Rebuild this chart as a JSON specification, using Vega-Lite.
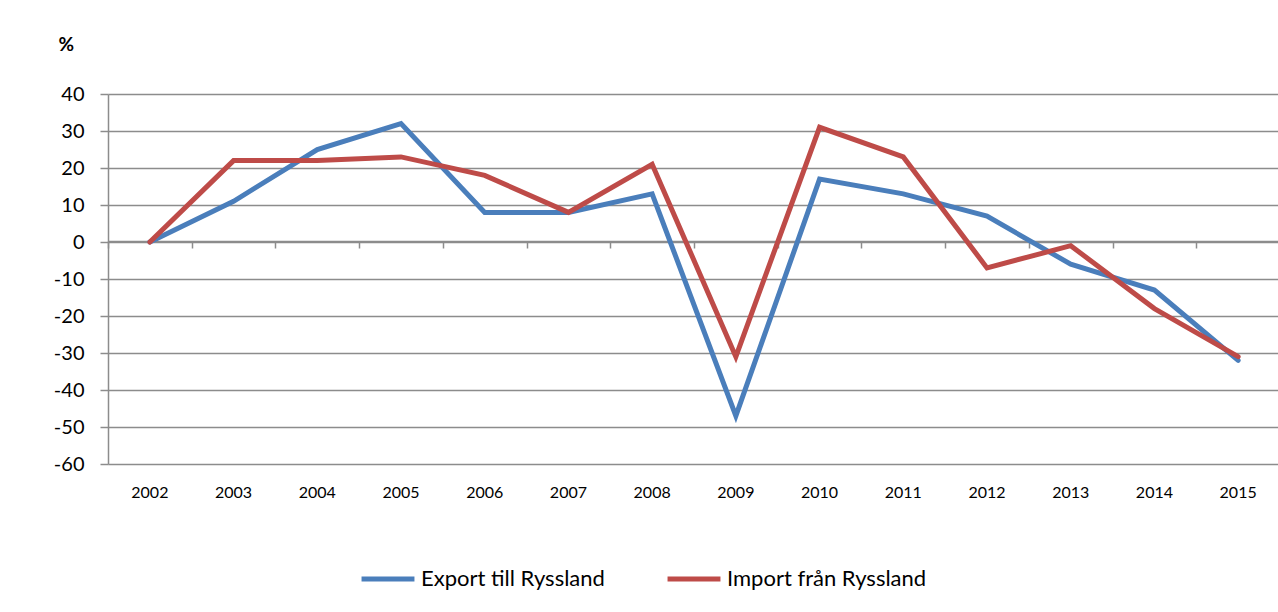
{
  "$schema": "https://vega.github.io/schema/vega-lite/v6.json",
  "width": 1172,
  "height": 370,
  "autosize": {"type": "none"},
  "padding": {"left": 108, "top": 94, "right": 0, "bottom": 148},
  "background": "white",
  "config": {
    "view": {"stroke": null},
    "font": "Lato",
    "axis": {"labelFont": "Lato", "titleFont": "Lato", "labelColor": "#000000"},
    "legend": {"labelFont": "Lato"}
  },
  "data": {
    "values": [
      {"year": "2002", "series": "Export till Ryssland", "value": 0},
      {"year": "2003", "series": "Export till Ryssland", "value": 11},
      {"year": "2004", "series": "Export till Ryssland", "value": 25},
      {"year": "2005", "series": "Export till Ryssland", "value": 32},
      {"year": "2006", "series": "Export till Ryssland", "value": 8},
      {"year": "2007", "series": "Export till Ryssland", "value": 8},
      {"year": "2008", "series": "Export till Ryssland", "value": 13},
      {"year": "2009", "series": "Export till Ryssland", "value": -47},
      {"year": "2010", "series": "Export till Ryssland", "value": 17},
      {"year": "2011", "series": "Export till Ryssland", "value": 13},
      {"year": "2012", "series": "Export till Ryssland", "value": 7},
      {"year": "2013", "series": "Export till Ryssland", "value": -6},
      {"year": "2014", "series": "Export till Ryssland", "value": -13},
      {"year": "2015", "series": "Export till Ryssland", "value": -32},
      {"year": "2002", "series": "Import från Ryssland", "value": 0},
      {"year": "2003", "series": "Import från Ryssland", "value": 22},
      {"year": "2004", "series": "Import från Ryssland", "value": 22},
      {"year": "2005", "series": "Import från Ryssland", "value": 23},
      {"year": "2006", "series": "Import från Ryssland", "value": 18},
      {"year": "2007", "series": "Import från Ryssland", "value": 8},
      {"year": "2008", "series": "Import från Ryssland", "value": 21},
      {"year": "2009", "series": "Import från Ryssland", "value": -31},
      {"year": "2010", "series": "Import från Ryssland", "value": 31},
      {"year": "2011", "series": "Import från Ryssland", "value": 23},
      {"year": "2012", "series": "Import från Ryssland", "value": -7},
      {"year": "2013", "series": "Import från Ryssland", "value": -1},
      {"year": "2014", "series": "Import från Ryssland", "value": -18},
      {"year": "2015", "series": "Import från Ryssland", "value": -31}
    ]
  },
  "resolve": {"axis": {"x": "independent"}},
  "layer": [
    {
      "mark": {"type": "point", "opacity": 0},
      "encoding": {
        "x": {
          "field": "year", "type": "ordinal", "bandPosition": 0.5,
          "scale": {"type": "band", "paddingInner": 0, "paddingOuter": 0},
          "axis": {
            "orient": "bottom", "offset": -223, "labels": false, "title": null,
            "domain": true, "domainColor": "#8c8c8c", "domainWidth": 1.5,
            "ticks": true, "tickBand": "extent", "tickSize": 7, "tickColor": "#8c8c8c", "tickWidth": 1.5,
            "grid": false
          }
        },
        "y": {
          "field": "value", "type": "quantitative",
          "scale": {"domain": [-60, 40], "nice": false, "zero": false},
          "axis": {
            "values": [-60, -50, -40, -30, -20, -10, 0, 10, 20, 30, 40],
            "labelExpr": "'' + datum.value", "labelOverlap": false,
            "labelFontSize": 20, "labelPadding": 16, "tickSize": 8, "tickColor": "#8c8c8c", "tickWidth": 1.5,
            "domain": true, "domainColor": "#8c8c8c", "domainWidth": 1.5,
            "grid": true, "gridColor": "#8c8c8c", "gridWidth": 1.5,
            "title": "%", "titleAngle": 0, "titleFontSize": 19, "titleFontWeight": "bold",
            "titleX": -50, "titleY": -50, "titleAlign": "left", "titleBaseline": "middle"
          }
        }
      }
    },
    {
      "mark": {"type": "line", "strokeWidth": 5, "strokeCap": "round", "strokeJoin": "miter"},
      "encoding": {
        "x": {
          "field": "year", "type": "ordinal", "bandPosition": 0.5,
          "scale": {"type": "band", "paddingInner": 0, "paddingOuter": 0},
          "axis": {
            "orient": "bottom", "title": null, "labelAngle": 0, "labelFontSize": 16,
            "labelPadding": 20, "domain": false, "ticks": false, "grid": false
          }
        },
        "y": {
          "field": "value", "type": "quantitative",
          "scale": {"domain": [-60, 40], "nice": false, "zero": false},
          "axis": {
            "values": [-60, -50, -40, -30, -20, -10, 0, 10, 20, 30, 40],
            "labelExpr": "'' + datum.value", "labelOverlap": false,
            "labelFontSize": 20, "labelPadding": 16, "tickSize": 8, "tickColor": "#8c8c8c", "tickWidth": 1.5,
            "domain": true, "domainColor": "#8c8c8c", "domainWidth": 1.5,
            "grid": true, "gridColor": "#8c8c8c", "gridWidth": 1.5,
            "title": "%", "titleAngle": 0, "titleFontSize": 19, "titleFontWeight": "bold",
            "titleX": -50, "titleY": -50, "titleAlign": "left", "titleBaseline": "middle"
          }
        },
        "color": {
          "field": "series", "type": "nominal",
          "scale": {"domain": ["Export till Ryssland", "Import från Ryssland"], "range": ["#4A7EBB", "#BE4B48"]},
          "legend": {
            "title": null, "orient": "none", "direction": "horizontal",
            "legendX": 251, "legendY": 456,
            "symbolType": "stroke", "symbolSize": 2800, "symbolStrokeWidth": 5,
            "labelFontSize": 22, "labelColor": "#000000", "labelOffset": 4, "columnPadding": 52,
            "labelLimit": 400
          }
        }
      }
    }
  ]
}
